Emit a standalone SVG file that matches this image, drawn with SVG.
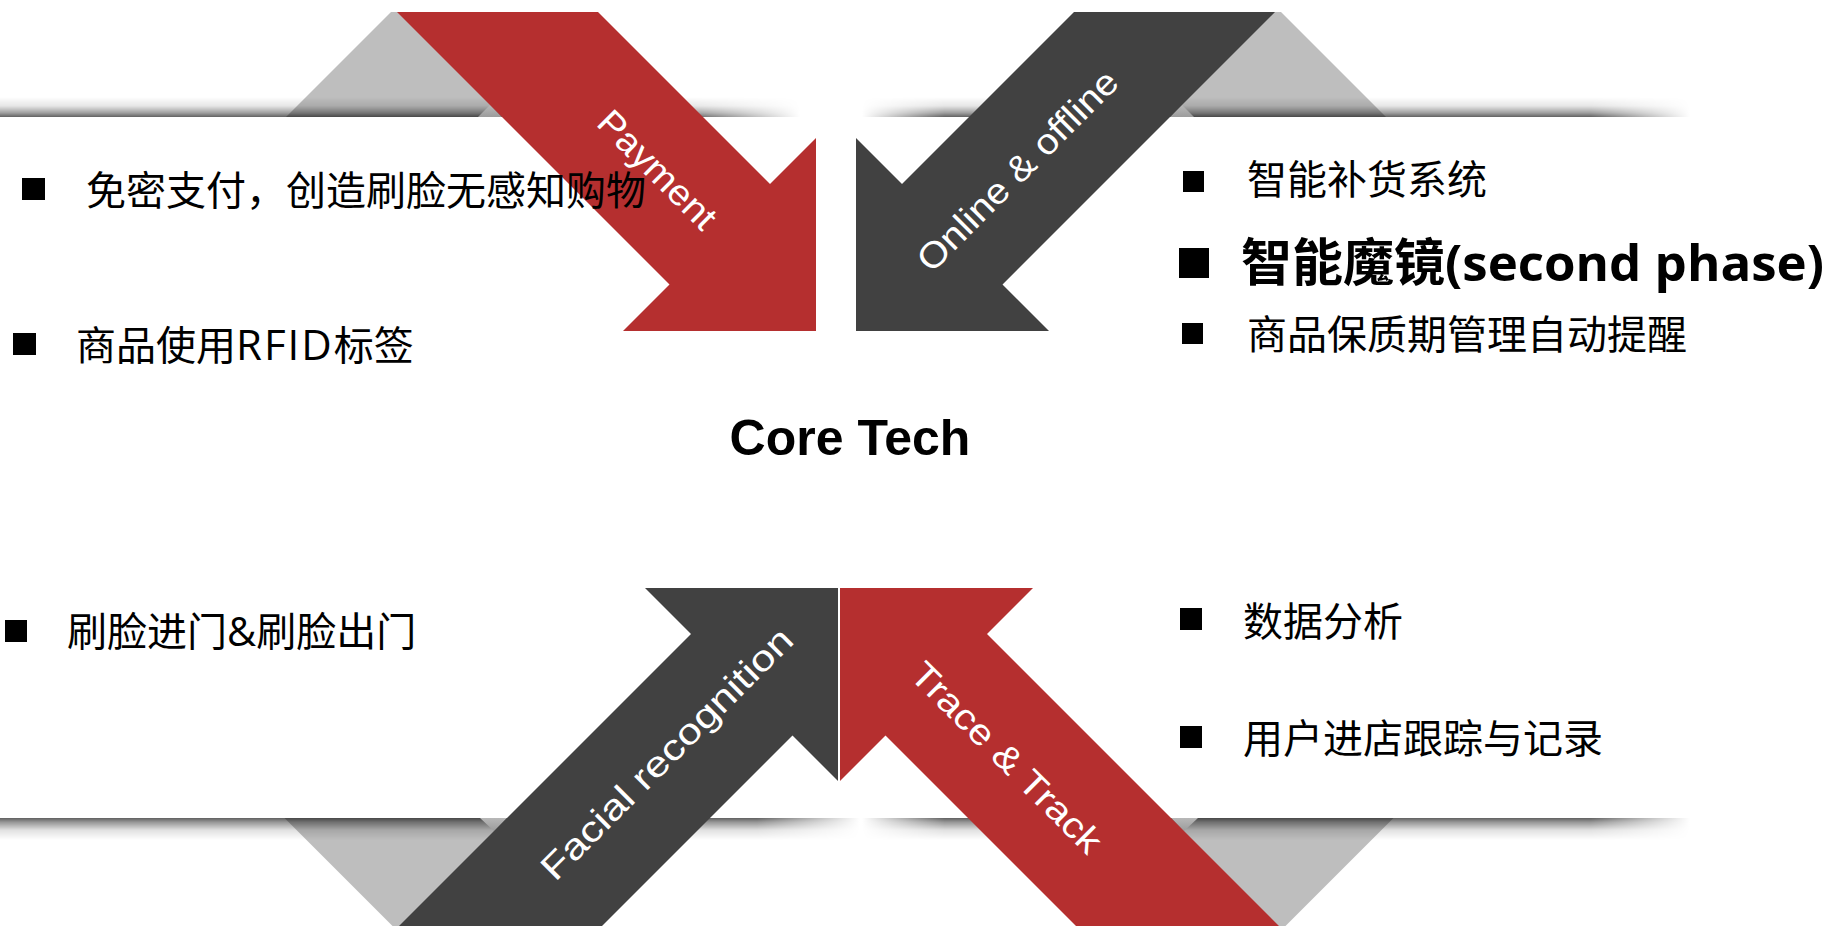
<svg xmlns="http://www.w3.org/2000/svg" width="1830" height="926" viewBox="0 0 1830 926">
<style>
.red{fill:#b52f2f}
.dark{fill:#414141}
.fold{fill:#bebebe}
.wedge{fill:url(#gWedge)}
.lbl{font-family:"Liberation Sans",Arial,sans-serif;font-size:36px;fill:#ffffff;text-anchor:middle}
.item{font-family:"Open Sans","Noto Sans CJK SC",sans-serif;font-size:40px;fill:#000000}
.bold{font-weight:700;font-size:51px}
.bullet{fill:#000000}
.core{font-family:"Liberation Sans",Arial,sans-serif;font-size:50px;font-weight:700;fill:#000000;text-anchor:middle}
</style>
<defs>
<linearGradient id="gTop" x1="0" y1="0" x2="0" y2="1">
<stop offset="0" stop-color="#000" stop-opacity="0"/>
<stop offset="0.45" stop-color="#000" stop-opacity="0.1"/>
<stop offset="0.8" stop-color="#000" stop-opacity="0.38"/>
<stop offset="1" stop-color="#000" stop-opacity="0.62"/>
</linearGradient>
<linearGradient id="gBot" x1="0" y1="0" x2="0" y2="1">
<stop offset="0" stop-color="#000" stop-opacity="0.62"/>
<stop offset="0.2" stop-color="#000" stop-opacity="0.4"/>
<stop offset="0.55" stop-color="#000" stop-opacity="0.12"/>
<stop offset="1" stop-color="#000" stop-opacity="0"/>
</linearGradient>
<linearGradient id="gWedge" x1="0" y1="0" x2="0" y2="1">
<stop offset="0" stop-color="#b8b8b8"/>
<stop offset="1" stop-color="#9c9c9c"/>
</linearGradient>
<linearGradient id="fadeL" gradientUnits="userSpaceOnUse" x1="0" y1="0" x2="800" y2="0">
<stop offset="0" stop-color="#fff"/>
<stop offset="0.86" stop-color="#fff"/>
<stop offset="1" stop-color="#000"/>
</linearGradient>
<linearGradient id="fadeLB" gradientUnits="userSpaceOnUse" x1="0" y1="0" x2="860" y2="0">
<stop offset="0" stop-color="#fff"/>
<stop offset="0.88" stop-color="#fff"/>
<stop offset="1" stop-color="#000"/>
</linearGradient>
<linearGradient id="fadeR" gradientUnits="userSpaceOnUse" x1="862" y1="0" x2="1690" y2="0">
<stop offset="0" stop-color="#000"/>
<stop offset="0.1" stop-color="#fff"/>
<stop offset="0.88" stop-color="#fff"/>
<stop offset="1" stop-color="#000"/>
</linearGradient>
<mask id="mTL" maskUnits="userSpaceOnUse" x="0" y="0" width="1830" height="926"><rect x="0" y="90" width="800" height="40" fill="url(#fadeL)"/></mask>
<mask id="mBL" maskUnits="userSpaceOnUse" x="0" y="0" width="1830" height="926"><rect x="0" y="810" width="860" height="40" fill="url(#fadeLB)"/></mask>
<mask id="mR" maskUnits="userSpaceOnUse" x="0" y="0" width="1830" height="926"><rect x="862" y="0" width="828" height="926" fill="url(#fadeR)"/></mask>
</defs>
<rect x="0" y="0" width="1830" height="926" fill="#ffffff"/>

<g id="folds">
<polygon class="fold" points="391,12 286,117 540,117 430,12"/>
<polygon class="fold" points="1281,12 1386,117 1132,117 1242,12"/>
<polygon class="fold" points="392.5,926 284.5,818 540,818 440,926"/>
<polygon class="fold" points="1285.5,926 1393.5,818 1138,818 1238,926"/>
</g>

<g id="shadows">
<rect x="0" y="97" width="800" height="20" fill="url(#gTop)" mask="url(#mTL)"/>
<rect x="862" y="97" width="828" height="20" fill="url(#gTop)" mask="url(#mR)"/>
<rect x="0" y="818" width="860" height="22" fill="url(#gBot)" mask="url(#mBL)"/>
<rect x="862" y="818" width="828" height="22" fill="url(#gBot)" mask="url(#mR)"/>
<polygon class="wedge" points="478,117 502,117 490,105"/>
<polygon class="wedge" points="1194,117 1170,117 1182,105"/>
<polygon class="wedge" points="480,818 507,818 494,831"/>
<polygon class="wedge" points="1198,818 1171,818 1184,831"/>
</g>

<g id="arrow-payment">
<polygon class="red" points="397,12 598,12 770,184 816,138 816,331 623,331 669.5,284.5"/>
<text class="lbl" transform="translate(655,172) rotate(45)" x="0" y="9" textLength="152" lengthAdjust="spacingAndGlyphs">Payment</text>
</g>
<g id="arrow-online">
<polygon class="dark" points="1275,12 1074,12 902,184 856,138 856,331 1049,331 1002.5,284.5"/>
<text class="lbl" transform="translate(1017,170) rotate(-45)" x="0" y="13" textLength="268" lengthAdjust="spacingAndGlyphs">Online &amp; offline</text>
</g>
<g id="arrow-facial">
<polygon class="dark" points="399,926 691,634 645,588 838,588 838,781 792.5,735.5 602,926"/>
<text class="lbl" transform="translate(669,756) rotate(-45)" x="0" y="9" textLength="340" lengthAdjust="spacingAndGlyphs">Facial recognition</text>
</g>
<g id="arrow-trace">
<polygon class="red" points="1279,926 987,634 1033,588 840,588 840,781 885.5,735.5 1076,926"/>
<text class="lbl" transform="translate(1007,757) rotate(45)" x="0" y="13" textLength="254" lengthAdjust="spacingAndGlyphs">Trace &amp; Track</text>
</g>

<g id="core">
<text class="core" x="850" y="455">Core Tech</text>
</g>

<g id="list-payment">
<rect class="bullet" x="22" y="178" width="23" height="22"/>
<text class="item" x="86" y="205">免密支付，创造刷脸无感知购物</text>
<rect class="bullet" x="13" y="333" width="23" height="22"/>
<text class="item" x="76" y="360">商品使用<tspan font-size="42" letter-spacing="2">RFID</tspan>标签</text>
</g>
<g id="list-online">
<rect class="bullet" x="1183" y="171" width="21" height="21"/>
<text class="item" x="1247" y="194">智能补货系统</text>
<rect class="bullet" x="1179" y="248" width="30" height="30"/>
<text class="item bold" x="1241" y="281">智能魔镜(second phase)</text>
<rect class="bullet" x="1182" y="323" width="21" height="21"/>
<text class="item" x="1247" y="349">商品保质期管理自动提醒</text>
</g>
<g id="list-facial">
<rect class="bullet" x="5" y="620" width="22" height="22"/>
<text class="item" x="67" y="646">刷脸进门&amp;刷脸出门</text>
</g>
<g id="list-trace">
<rect class="bullet" x="1180" y="608" width="22" height="22"/>
<text class="item" x="1243" y="636">数据分析</text>
<rect class="bullet" x="1180" y="726" width="22" height="22"/>
<text class="item" x="1243" y="753">用户进店跟踪与记录</text>
</g>
</svg>
